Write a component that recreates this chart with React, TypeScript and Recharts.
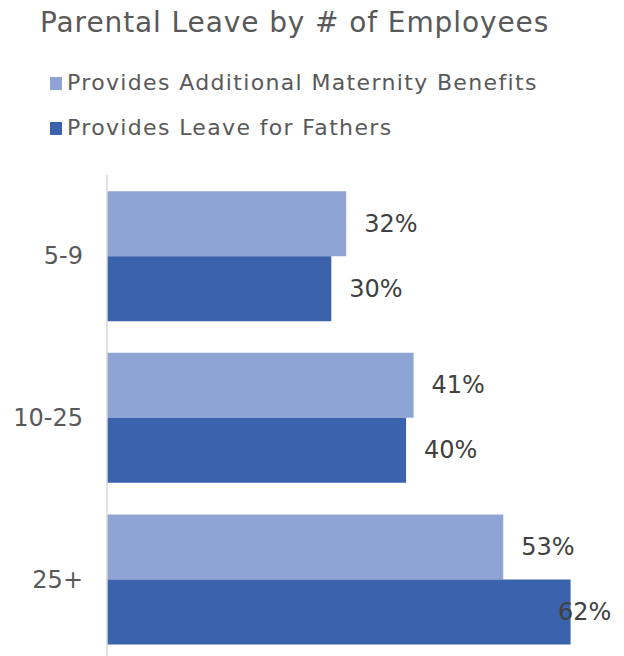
import React from 'react';
import { BarChart, Bar, XAxis, YAxis, LabelList } from 'recharts';

const categories = ['5-9', '10-25', '25+'];
const maternity = [32, 41, 53];
const fathers = [30, 40, 62];
const seriesNames = ['Provides Additional Maternity Benefits', 'Provides Leave for Fathers'];
const seriesColors = ['#8FA3D4', '#3B63AD'];

const data = categories.map((name, i) => ({ name, maternity: maternity[i], fathers: fathers[i] }));

const FONT = '"DejaVu Sans", Verdana, sans-serif';

// Excel pushes the label inside the bar when it runs out of room on the right
const renderLabel = (props: any) => {
  const { x, y, width, height, value } = props;
  const tx = Math.min(x + width + 18, 558);
  return (
    <text
      x={tx}
      y={y + height / 2}
      dominantBaseline="central"
      fontFamily={FONT}
      fontSize={24}
      fill="#404040"
    >
      {`${value}%`}
    </text>
  );
};

const App: React.FC = () => (
  <div style={{ position: 'absolute', left: 0, top: 0, width: 624, height: 656, overflow: 'hidden', background: '#fff', fontFamily: FONT }}>
    <div style={{ position: 'absolute', left: 40, top: 9, fontSize: 28, letterSpacing: 0.9, lineHeight: 1, color: '#595959', whiteSpace: 'nowrap' }}>
      Parental Leave by # of Employees
    </div>
    {seriesNames.map((n, i) => (
      <div key={n} style={{ position: 'absolute', left: 50, top: 72 + i * 45, height: 22, display: 'flex', alignItems: 'center', whiteSpace: 'nowrap' }}>
        <span style={{ width: 12, height: 13, background: seriesColors[i], display: 'inline-block', marginRight: 5 }} />
        <span style={{ fontSize: 22, letterSpacing: 1.35, lineHeight: 1, color: '#595959' }}>{n}</span>
      </div>
    ))}
    <div style={{ position: 'absolute', left: 0, top: 0 }}>
      <BarChart
        width={624}
        height={660}
        data={data}
        layout="vertical"
        margin={{ top: 175, right: 31, bottom: 0, left: 0 }}
        barCategoryGap="10%"
        barGap={0}
      >
        <XAxis type="number" domain={[0, 65]} hide />
        <YAxis
          type="category"
          dataKey="name"
          width={107}
          tickLine={false}
          tickSize={6}
          tickMargin={18}
          axisLine={{ stroke: '#D9D9D9', strokeWidth: 1.5 }}
          tick={{ fill: '#595959', fontSize: 24, fontFamily: FONT }}
        />
        <Bar dataKey="maternity" name={seriesNames[0]} fill={seriesColors[0]} isAnimationActive={false}>
          <LabelList dataKey="maternity" content={renderLabel} />
        </Bar>
        <Bar dataKey="fathers" name={seriesNames[1]} fill={seriesColors[1]} isAnimationActive={false}>
          <LabelList dataKey="fathers" content={renderLabel} />
        </Bar>
      </BarChart>
    </div>
  </div>
);

export default App;
